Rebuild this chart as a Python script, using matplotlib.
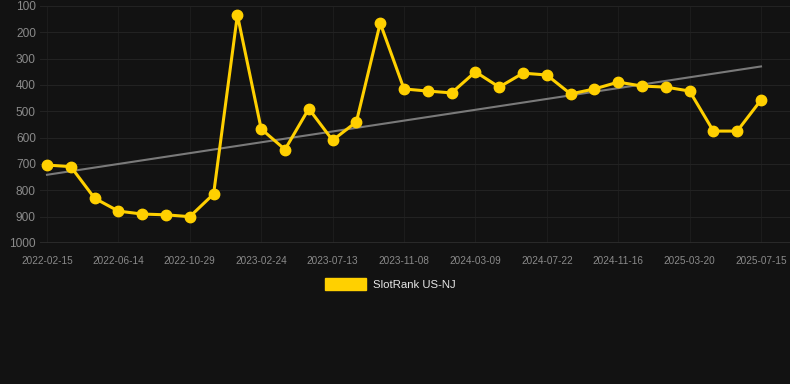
import numpy as np
import pandas as pd
import matplotlib
matplotlib.use("Agg")
from matplotlib import pyplot as plt
import matplotlib.dates as mdates
from matplotlib.patches import Patch

# rank readings, one roughly every 41 days
start_date = "2022-02-15"
end_date = "2025-07-15"
ranks = [704, 710, 830, 879, 890, 893, 900, 814, 134, 567,
         645, 490, 610, 540, 165, 415, 423, 430, 350, 408,
         355, 362, 434, 415, 389, 404, 408, 423, 575, 575, 457]
tick_labels = ["2022-02-15", "2022-06-14", "2022-10-29", "2023-02-24",
               "2023-07-13", "2023-11-08", "2024-03-09", "2024-07-22",
               "2024-11-16", "2025-03-20", "2025-07-15"]
y_ticks = [100, 200, 300, 400, 500, 600, 700, 800, 900, 1000]
series_name = "SlotRank US-NJ"

dates = pd.date_range(start_date, end_date, periods=len(ranks))

bg = "#121212"
yellow = "#FFD000"

plt.rcParams['font.family'] = ['Liberation Sans', 'DejaVu Sans']
fig = plt.figure(figsize=(7.9, 3.84), dpi=100, facecolor=bg)
ax = fig.add_axes([40 / 790, 141 / 384, 750 / 790, 237 / 384])
ax.set_facecolor(bg)

# trend line from a straight fit
xnum = mdates.date2num(dates)
k, b = np.polyfit(xnum, ranks, 1)
ax.plot(dates, k * xnum + b, color="#7a7a7a", lw=1.5, zorder=2)

ax.plot(dates, ranks, color=yellow, lw=2.2, marker="o", ms=7.5,
        markerfacecolor=yellow, markeredgecolor=yellow, zorder=3)

ax.set_ylim(1000, 100)
ax.set_yticks(y_ticks)
# every third reading carries a label
ax.set_xticks(dates[::3])
ax.set_xticklabels(tick_labels)
d0 = xnum[0]
d1 = xnum[-1]
per_px = (d1 - d0) / 714
ax.set_xlim(d0 - 7 * per_px, d1 + 29 * per_px)

ax.grid(True, axis="y", color="#222222", lw=0.8)
ax.grid(True, axis="x", color="#1c1c1c", lw=0.8)
for s in ax.spines.values():
    s.set_visible(False)
ax.axhline(1000, color="#2e2e2e", lw=1.2)
ax.tick_params(axis="both", length=0, colors="#8a8a8a")
ax.tick_params(axis="y", labelsize=8.6, pad=3)
ax.tick_params(axis="x", labelsize=7.2, pad=9)

handle = Patch(facecolor=yellow, edgecolor=yellow)
leg = fig.legend([handle], [series_name], loc="center", bbox_to_anchor=(0.494, 0.26),
                 frameon=False, fontsize=8.2, handlelength=3.6, handleheight=1.3,
                 handletextpad=0.6)
for t in leg.get_texts():
    t.set_color("#e6e6e6")

fig.savefig("out.png", dpi=100, facecolor=bg)
